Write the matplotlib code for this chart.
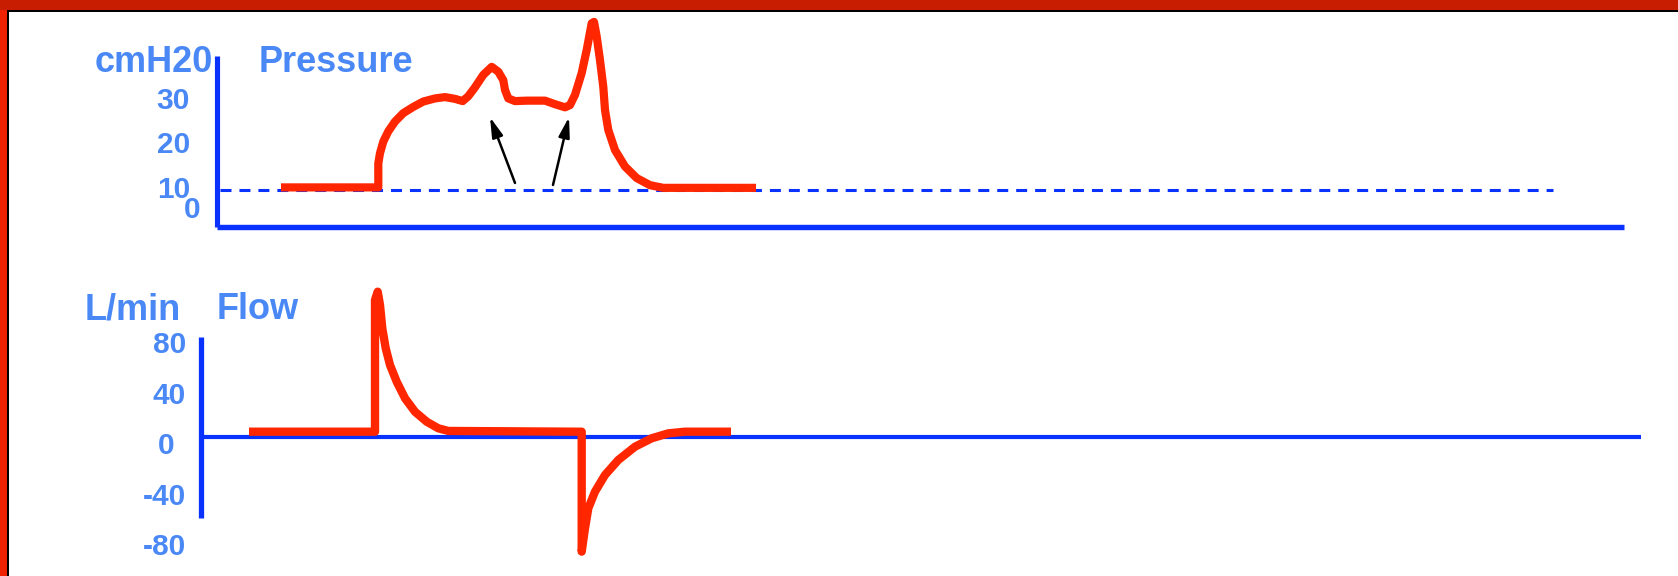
import matplotlib
matplotlib.use('Agg')
import matplotlib.pyplot as plt
from matplotlib.patches import Rectangle
from matplotlib.transforms import ScaledTranslation

# ---------------- data ----------------
# time in arbitrary units (s)
pressure_t = [0.64, 1.613, 1.613, 1.63, 1.663, 1.713, 1.78, 1.863, 1.963, 2.063, 2.18,
              2.28, 2.38, 2.457, 2.513, 2.58, 2.663, 2.747, 2.813, 2.863, 2.88, 2.913,
              2.98, 3.097, 3.28, 3.38, 3.48, 3.53, 3.58, 3.647, 3.697, 3.747, 3.77,
              3.797, 3.83, 3.863, 3.88, 3.913, 3.98, 4.08, 4.197, 4.33, 4.463, 5.39]
pressure_v = [9.9, 9.9, 15.3, 17.6, 20.2, 22.5, 24.7, 26.6, 28.0, 29.2, 29.9,
              30.2, 29.8, 29.3, 30.4, 32.4, 35.2, 37.0, 35.9, 34.0, 31.8, 29.9,
              29.3, 29.4, 29.4, 28.6, 27.9, 28.4, 30.7, 35.6, 40.8, 46.8, 47.1,
              43.8, 38.5, 32.5, 27.3, 22.8, 18.3, 14.6, 12.0, 10.4, 9.8, 9.8]
peep_level = 9.4
peep_span = [0.03, 13.36]

flow_t = [0.32, 1.58, 1.58, 1.607, 1.63, 1.653, 1.687, 1.73, 1.797, 1.88, 1.98, 2.097,
          2.213, 2.313, 3.597, 3.647, 3.647, 3.68, 3.713, 3.78, 3.88, 4.013, 4.18,
          4.347, 4.513, 4.68, 5.14]
flow_v = [4.2, 4.2, 108.5, 115.1, 104.6, 86.1, 70.3, 57.0, 43.8, 30.7, 20.0, 12.1,
          6.9, 4.8, 4.2, 4.2, -90.8, -72.3, -56.5, -43.3, -30.1, -18.2, -7.7,
          -1.0, 2.9, 4.2, 4.2]

pressure_ticks = [5.5, 10, 20, 30]
pressure_ticklabels = ['0', '10', '20', '30']
flow_ticks = [-80, -40, 0, 40, 80]
flow_ticklabels = ['-80', '-40', '0', '40', '80']

# arrows (tail -> tip) in pressure data coords
arrow_tails = [(2.98, 10.9), (3.36, 10.45)]
arrow_tips = [(2.73, 25.7), (3.52, 25.7)]

# ---------------- style ----------------
W, H, DPI = 1678, 576, 100
RED = '#ff2600'
AX_BLUE = '#0a32ff'
LBL_BLUE = '#4a88f6'
plt.rcParams['font.family'] = ['Liberation Sans', 'DejaVu Sans']
plt.rcParams['font.weight'] = 'bold'

fig = plt.figure(figsize=(W / DPI, H / DPI), dpi=DPI)
fig.patch.set_facecolor('white')


def fx(px):
    return px / W


def fy(py):
    return 1 - py / H


# ---------------- pressure panel ----------------
p_scale = 4.45  # px per unit
p_ylim = (1.0, 50.0)
p_top_px = 187 - (p_ylim[1] - 10) * p_scale
p_bot_px = 227
axp = fig.add_axes([fx(217), fy(p_bot_px), (1624 - 217) / W, (p_bot_px - p_top_px) / H])
axp.set_xlim(0, (1624 - 217) / 100)
axp.set_ylim(*p_ylim)
axp.patch.set_alpha(0)
for s in ('top', 'right'):
    axp.spines[s].set_visible(False)
axp.spines['left'].set_bounds(p_ylim[0], 39.4)
axp.spines['left'].set_linewidth(3.7)
axp.spines['bottom'].set_linewidth(3.9)
for s in ('left', 'bottom'):
    axp.spines[s].set_color(AX_BLUE)
    axp.spines[s].set_capstyle('butt')
axp.set_xticks([])
axp.set_yticks(pressure_ticks, pressure_ticklabels)
axp.tick_params(axis='y', length=0, labelsize=21.5, labelcolor=LBL_BLUE, pad=19.4)
for lbl in axp.get_yticklabels():
    lbl.set_fontweight('bold')
axp.yaxis.get_major_ticks()[0].set_pad(12.2)

axp.plot(peep_span, [peep_level, peep_level], color=AX_BLUE, lw=2.2,
         linestyle=(0, (3.6, 2.6)), zorder=2)
axp.plot(pressure_t, pressure_v, color=RED, lw=5.9, solid_joinstyle='round',
         solid_capstyle='butt', clip_on=False, zorder=3)
for tail, tip in zip(arrow_tails, arrow_tips):
    axp.annotate('', xy=tip, xytext=tail,
                 arrowprops=dict(arrowstyle='-|>,head_length=1.2,head_width=0.33',
                                 color='black', lw=1.8, shrinkA=0, shrinkB=0,
                                 mutation_scale=10))

fig.text(fx(95), fy(72), 'cmH20', ha='left', va='baseline', fontsize=26,
         color=LBL_BLUE, fontweight='bold')
fig.text(fx(259), fy(72), 'Pressure', ha='left', va='baseline', fontsize=26,
         color=LBL_BLUE, fontweight='bold')

# ---------------- flow panel ----------------
f_scale = 1.2625  # px per unit
f_ylim = (-100, 120)
f_zero_px = 437
f_top_px = f_zero_px - f_ylim[1] * f_scale
f_bot_px = f_zero_px - f_ylim[0] * f_scale
axf = fig.add_axes([fx(201), fy(f_bot_px), (1641 - 201) / W, (f_bot_px - f_top_px) / H])
axf.set_xlim((201 - 217) / 100, (1641 - 217) / 100)
axf.set_ylim(*f_ylim)
axf.patch.set_alpha(0)
for s in ('top', 'right'):
    axf.spines[s].set_visible(False)
axf.spines['left'].set_bounds(-64.2, 79.2)
axf.spines['left'].set_linewidth(3.8)
axf.spines['bottom'].set_position(('data', 0))
axf.spines['bottom'].set_linewidth(3.0)
for s in ('left', 'bottom'):
    axf.spines[s].set_color(AX_BLUE)
    axf.spines[s].set_capstyle('butt')
axf.set_xticks([])
axf.set_yticks(flow_ticks, flow_ticklabels)
axf.tick_params(axis='y', length=0, labelsize=21.5, labelcolor=LBL_BLUE, pad=10.8)
for lbl in axf.get_yticklabels():
    lbl.set_fontweight('bold')
ftick = axf.yaxis.get_major_ticks()
ftick[2].set_pad(19.4)
shift = ScaledTranslation(0, -6 / DPI, fig.dpi_scale_trans)
for t in ftick:
    t.label1.set_transform(t.label1.get_transform() + shift)

axf.plot(flow_t, flow_v, color=RED, lw=6.0, solid_joinstyle='round',
         solid_capstyle='butt', clip_on=False, zorder=3)

fig.text(fx(85), fy(319), 'L/min', ha='left', va='baseline', fontsize=26,
         color=LBL_BLUE, fontweight='bold')
fig.text(fx(217), fy(319), 'Flow', ha='left', va='baseline', fontsize=26,
         color=LBL_BLUE, fontweight='bold')

# ---------------- slide frame ----------------
fig.add_artist(Rectangle((0, fy(10)), 1, 10 / H, transform=fig.transFigure,
                         color='#c81d00', lw=0, zorder=10))
fig.add_artist(Rectangle((0, fy(12)), 1, 2 / H, transform=fig.transFigure,
                         color='black', lw=0, zorder=10))
fig.add_artist(Rectangle((0, 0), 7 / W, fy(10), transform=fig.transFigure,
                         color='#ee2200', lw=0, zorder=10))
fig.add_artist(Rectangle((7 / W, 0), 2 / W, fy(10), transform=fig.transFigure,
                         color='black', lw=0, zorder=10))

fig.savefig('out.png', dpi=DPI, facecolor='white')
